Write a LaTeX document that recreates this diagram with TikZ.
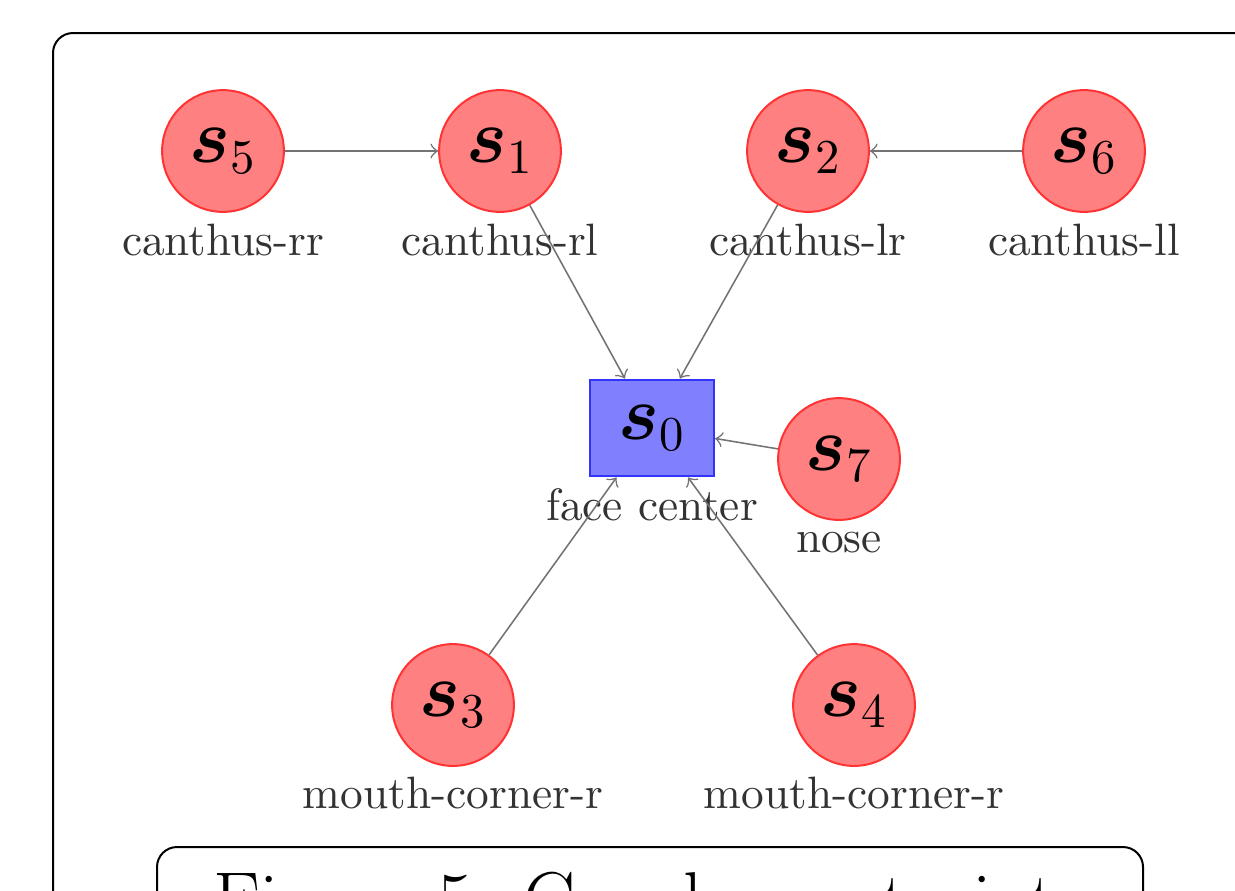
\documentclass[tikz,border=0pt]{standalone}
\usepackage{bm}
\begin{document}
\begin{tikzpicture}[x=0.225pt,y=-0.225pt,
  snode/.style={circle,fill=red!50,draw=red!80,line width=0.45pt,minimum size=27.4pt,inner sep=0pt,font=\fontsize{16}{18}\selectfont},
  cnode/.style={rectangle,fill=blue!50,draw=blue!80,line width=0.45pt,minimum width=27.9pt,minimum height=21.8pt,inner sep=0pt,font=\fontsize{16}{18}\selectfont},
  lbl/.style={anchor=base,inner sep=0pt,text=black!80,font=\fontsize{10.2}{12}\selectfont},
  edge/.style={draw=black!55,line width=0.35pt,->},
  frame/.style={draw=black,line width=0.45pt,rounded corners=4.5pt}]
\useasboundingbox (0,0) rectangle (1235,890);
\clip (0,0) rectangle (1235,890);
\draw[frame] (53,33) rectangle (1260,960);
\draw[frame] (157,847) rectangle (1143,960);
\node[anchor=base,inner sep=0pt,font=\fontsize{17.5}{20}\selectfont] (cap) at (649,926) {Figure 5: Graph constraints};
% nodes
\node[cnode] (s0) at (652,428) {$\bm{s}_0$};
\node[snode] (s5) at (223,151) {$\bm{s}_5$};
\node[snode] (s1) at (500,151) {$\bm{s}_1$};
\node[snode] (s2) at (808,151) {$\bm{s}_2$};
\node[snode] (s6) at (1084,151) {$\bm{s}_6$};
\node[snode] (s7) at (839,459) {$\bm{s}_7$};
\node[snode] (s3) at (453,705) {$\bm{s}_3$};
\node[snode] (s4) at (854,705) {$\bm{s}_4$};
% labels
\node[lbl] (l5) at (223,255) {canthus-rr};
\node[lbl] (l1) at (500,255) {canthus-rl};
\node[lbl] (l2) at (808,255) {canthus-lr};
\node[lbl] (l6) at (1084,255) {canthus-ll};
\node[lbl] (l0) at (652,520) {face center};
\node[lbl] (l7) at (839,552) {nose};
\node[lbl] (l3) at (453,808) {mouth-corner-r};
\node[lbl] (l4) at (854,808) {mouth-corner-r};
% edges
\draw[edge] (s5) -- (s1);
\draw[edge] (s6) -- (s2);
\draw[edge] (s1) -- (s0);
\draw[edge] (s2) -- (s0);
\draw[edge] (s7) -- (s0);
\draw[edge] (s3) -- (s0);
\draw[edge] (s4) -- (s0);
\end{tikzpicture}
\end{document}
